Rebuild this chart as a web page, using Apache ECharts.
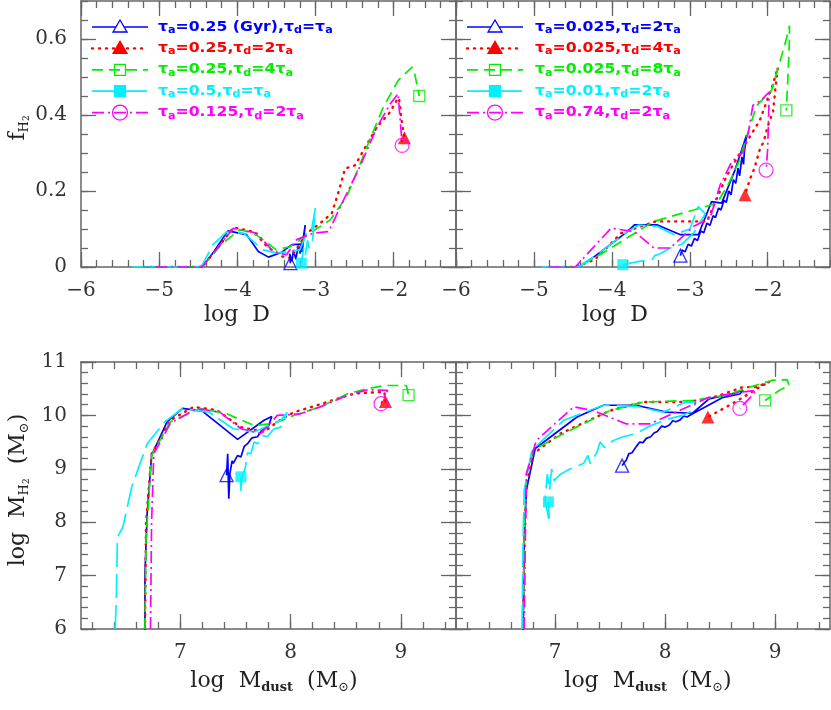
<!DOCTYPE html>
<html>
<head>
<meta charset="utf-8">
<title>f_H2 and M_H2 tracks</title>
<script src="https://cdn.jsdelivr.net/npm/echarts@6/dist/echarts.min.js"></script>
<style>
  html, body { margin: 0; padding: 0; background: #fff; }
  #chart { width: 831px; height: 710px; }
</style>
</head>
<body>
<div id="chart"></div>
<script>
// tick labels
const dTicks = [-6, -5, -4, -3, -2]
const fTicks = [0, 0.2, 0.4, 0.6]
const dustTicks = [7, 8, 9]
const h2Ticks = [6, 7, 8, 9, 10, 11]

// legend labels ("_x" marks a subscript)
const leftNames = ['τ_a=0.25 (Gyr),τ_d=τ_a', 'τ_a=0.25,τ_d=2τ_a', 'τ_a=0.25,τ_d=4τ_a', 'τ_a=0.5,τ_d=τ_a', 'τ_a=0.125,τ_d=2τ_a']
const rightNames = ['τ_a=0.025,τ_d=2τ_a', 'τ_a=0.025,τ_d=4τ_a', 'τ_a=0.025,τ_d=8τ_a', 'τ_a=0.01,τ_d=2τ_a', 'τ_a=0.74,τ_d=2τ_a']

// top left: [log D, f_H2]
const tlBlue = [[-5.2, 0], [-4.45, 0], [-4.3, 0.04], [-4.12, 0.095], [-3.88, 0.085], [-3.73, 0.041], [-3.6, 0.026], [-3.43, 0.039], [-3.3, 0.059], [-3.18, 0.06], [-3.2, 0.035], [-3.16, 0.07], [-3.13, 0.11], [-3.17, 0.04], [-3.22, 0.055], [-3.25, 0.02], [-3.28, 0.045], [-3.3, 0.015], [-3.33, 0.035], [-3.32, 0.01]]
const tlRed = [[-5.2, 0], [-4.45, 0], [-4.25, 0.05], [-4.05, 0.104], [-3.79, 0.093], [-3.62, 0.054], [-3.43, 0.028], [-3.32, 0.024], [-3.2, 0.06], [-3.11, 0.089], [-2.94, 0.115], [-2.79, 0.141], [-2.7, 0.2], [-2.62, 0.259], [-2.49, 0.268], [-2.36, 0.316], [-2.21, 0.369], [-2.06, 0.403], [-1.96, 0.438], [-1.93, 0.445], [-1.9, 0.39], [-1.86, 0.34]]
const tlGreen = [[-5.1, 0], [-4.45, 0], [-4.2, 0.06], [-3.97, 0.098], [-3.8, 0.09], [-3.67, 0.072], [-3.5, 0.045], [-3.32, 0.054], [-3.07, 0.089], [-2.81, 0.124], [-2.6, 0.185], [-2.51, 0.229], [-2.34, 0.316], [-2.13, 0.421], [-1.94, 0.491], [-1.82, 0.515], [-1.76, 0.526], [-1.73, 0.51], [-1.7, 0.48], [-1.67, 0.45]]
const tlCyan = [[-5.35, 0], [-4.5, 0], [-4.45, 0.005], [-4.31, 0.059], [-4.14, 0.092], [-3.92, 0.089], [-3.67, 0.045], [-3.5, 0.037], [-3.35, 0.04], [-3.2, 0.045], [-3.11, 0.089], [-3.05, 0.095], [-3.0, 0.155], [-3.04, 0.06], [-3.08, 0.05], [-3.1, 0.07], [-3.13, 0.03], [-3.15, 0.05], [-3.18, 0.01]]
const tlMag = [[-5.05, 0], [-4.45, 0], [-4.25, 0.05], [-4.05, 0.102], [-3.75, 0.089], [-3.54, 0.041], [-3.37, 0.032], [-3.24, 0.072], [-3.03, 0.089], [-2.83, 0.093], [-2.64, 0.176], [-2.43, 0.264], [-2.21, 0.369], [-2.04, 0.43], [-1.94, 0.456], [-1.92, 0.4], [-1.9, 0.35], [-1.89, 0.32]]

// top right: [log D, f_H2]
const trBlue = [[-4.8, 0], [-4.43, 0], [-4.22, 0.028], [-3.8, 0.093], [-3.71, 0.111], [-3.42, 0.111], [-3.12, 0.085], [-2.89, 0.085], [-2.72, 0.172], [-2.59, 0.168], [-2.42, 0.255], [-2.27, 0.347], [-2.3, 0.3], [-2.31, 0.27], [-2.33, 0.29], [-2.36, 0.24], [-2.38, 0.26], [-2.41, 0.22], [-2.44, 0.23], [-2.47, 0.19], [-2.5, 0.2], [-2.53, 0.17], [-2.56, 0.175], [-2.6, 0.15], [-2.63, 0.155], [-2.67, 0.13], [-2.7, 0.135], [-2.74, 0.11], [-2.78, 0.115], [-2.82, 0.09], [-2.86, 0.095], [-2.9, 0.07], [-2.94, 0.075], [-2.98, 0.055], [-3.02, 0.06], [-3.06, 0.04], [-3.1, 0.045], [-3.12, 0.03]]
const trRed = [[-4.8, 0], [-4.47, 0], [-4.22, 0.019], [-3.88, 0.089], [-3.44, 0.12], [-2.78, 0.12], [-2.53, 0.238], [-2.36, 0.299], [-2.1, 0.386], [-1.93, 0.482], [-1.87, 0.525], [-1.9, 0.47], [-1.93, 0.41], [-2.0, 0.37], [-2.05, 0.33], [-2.1, 0.31], [-2.17, 0.26], [-2.23, 0.23], [-2.29, 0.19]]
const trGreen = [[-4.8, 0], [-4.43, 0], [-4.05, 0.045], [-3.46, 0.12], [-2.95, 0.15], [-2.65, 0.168], [-2.5, 0.22], [-2.36, 0.281], [-2.23, 0.369], [-2.14, 0.425], [-1.95, 0.465], [-1.85, 0.535], [-1.76, 0.6], [-1.72, 0.635], [-1.72, 0.6], [-1.74, 0.5], [-1.76, 0.412]]
const trCyan = [[-4.9, 0], [-4.43, 0], [-4.22, 0.028], [-3.8, 0.093], [-3.66, 0.11], [-3.42, 0.107], [-3.2, 0.085], [-3.0, 0.1], [-2.89, 0.159], [-2.8, 0.14], [-2.95, 0.09], [-3.1, 0.06], [-3.25, 0.05], [-3.38, 0.035], [-3.45, 0.03], [-3.48, 0.02], [-3.65, 0.015], [-3.86, 0.006]]
const trMag = [[-4.81, 0], [-4.47, 0], [-4.01, 0.102], [-3.71, 0.093], [-3.46, 0.05], [-3.25, 0.05], [-2.95, 0.107], [-2.74, 0.128], [-2.61, 0.216], [-2.46, 0.277], [-2.31, 0.303], [-2.25, 0.351], [-2.19, 0.425], [-2.08, 0.44], [-1.98, 0.46], [-1.99, 0.38], [-2.0, 0.31], [-2.02, 0.255]]

// bottom left: [log M_dust, log M_H2]
const blBlue = [[6.68, 6], [6.68, 7.04], [6.7, 8.16], [6.74, 9.25], [6.88, 9.88], [7.02, 10.13], [7.2, 10.08], [7.52, 9.55], [7.76, 9.91], [7.83, 9.98], [7.8, 9.8], [7.79, 9.78], [7.74, 9.72], [7.7, 9.6], [7.65, 9.58], [7.61, 9.47], [7.58, 9.42], [7.55, 9.22], [7.52, 9.25], [7.48, 9.1], [7.47, 9.15], [7.45, 8.91], [7.44, 8.44], [7.43, 9.28], [7.42, 8.88]]
const blRed = [[6.68, 6], [6.69, 8.0], [6.74, 9.28], [6.91, 9.91], [7.12, 10.16], [7.33, 10.1], [7.55, 9.78], [7.76, 9.69], [7.88, 9.88], [8.03, 10.06], [8.24, 10.19], [8.42, 10.31], [8.58, 10.41], [8.85, 10.44], [8.86, 10.26]]
const blGreen = [[6.68, 6], [6.69, 7.7], [6.74, 9.25], [6.91, 9.88], [7.18, 10.13], [7.42, 10.03], [7.67, 9.81], [7.85, 9.85], [8.03, 10.0], [8.27, 10.16], [8.52, 10.41], [8.7, 10.5], [8.85, 10.56], [9.05, 10.56], [9.07, 10.38]]
const blCyan = [[6.41, 6], [6.42, 6.54], [6.43, 7.72], [6.48, 7.91], [6.56, 8.66], [6.7, 9.47], [6.86, 9.88], [7.02, 10.13], [7.26, 10.06], [7.48, 9.75], [7.67, 9.69], [7.91, 9.91], [7.97, 10.06], [7.93, 9.85], [7.91, 9.78], [7.85, 9.75], [7.79, 9.6], [7.75, 9.62], [7.7, 9.47], [7.67, 9.5], [7.64, 9.28], [7.61, 9.3], [7.59, 9.03], [7.56, 8.85], [7.55, 8.57], [7.55, 8.85]]
const blMag = [[6.73, 6], [6.74, 8.0], [6.76, 9.28], [6.91, 9.85], [7.15, 10.13], [7.36, 10.06], [7.55, 9.75], [7.73, 9.66], [7.88, 10.0], [8.09, 10.03], [8.27, 10.16], [8.52, 10.38], [8.7, 10.48], [8.88, 10.47], [8.82, 10.22]]

// bottom right: [log M_dust, log M_H2]
const brBlue = [[6.71, 6], [6.72, 7.66], [6.74, 8.6], [6.82, 9.38], [7.2, 9.97], [7.44, 10.19], [7.74, 10.19], [8.01, 10.06], [8.25, 10.04], [8.4, 10.31], [8.62, 10.41], [8.71, 10.47], [8.68, 10.4], [8.52, 10.33], [8.34, 10.13], [8.25, 10.03], [8.2, 9.97], [8.17, 9.99], [8.14, 9.92], [8.1, 9.88], [8.07, 9.9], [8.04, 9.82], [8.0, 9.78], [7.97, 9.8], [7.93, 9.7], [7.9, 9.67], [7.87, 9.6], [7.83, 9.57], [7.8, 9.49], [7.77, 9.5], [7.74, 9.42], [7.7, 9.3], [7.67, 9.28], [7.65, 9.17], [7.61, 9.06]]
const brRed = [[6.71, 6], [6.72, 7.6], [6.74, 8.7], [6.8, 9.28], [7.05, 9.66], [7.5, 10.09], [7.8, 10.25], [8.19, 10.25], [8.4, 10.31], [8.71, 10.53], [8.83, 10.53], [8.95, 10.63], [8.86, 10.53], [8.71, 10.34], [8.56, 10.16], [8.39, 9.97]]
const brGreen = [[6.71, 6], [6.72, 7.6], [6.74, 8.9], [6.8, 9.35], [7.05, 9.63], [7.5, 10.09], [7.8, 10.25], [8.25, 10.28], [8.56, 10.38], [8.77, 10.53], [8.98, 10.66], [9.11, 10.67], [9.13, 10.56], [9.04, 10.47], [8.91, 10.28]]
const brCyan = [[6.7, 6], [6.71, 7.66], [6.72, 8.6], [6.79, 9.35], [7.08, 9.91], [7.44, 10.19], [7.74, 10.17], [7.98, 10.06], [8.19, 10.25], [8.28, 10.25], [8.25, 10.09], [8.16, 10.0], [8.04, 9.94], [7.86, 9.8], [7.74, 9.66], [7.62, 9.6], [7.53, 9.53], [7.45, 9.4], [7.41, 9.5], [7.38, 9.3], [7.32, 9.1], [7.3, 9.25], [7.26, 9.1], [7.2, 9.05], [7.11, 8.97], [7.05, 8.9], [6.99, 8.78], [6.97, 9.0], [6.95, 8.6], [6.93, 8.9], [6.91, 8.41], [6.95, 8.0], [6.94, 8.38]]
const brMag = [[6.72, 6], [6.73, 7.6], [6.74, 8.91], [6.83, 9.53], [7.17, 10.16], [7.35, 10.09], [7.65, 9.84], [7.86, 9.84], [8.1, 10.06], [8.4, 10.34], [8.71, 10.44], [8.83, 10.47], [8.76, 10.3], [8.68, 10.13]]

// helper for evenly spaced minor ticks
function steps(a, b, s) {
  const out = []
  for (let i = 0; a + i * s <= b + 1e-9; i++) out.push(+(a + i * s).toFixed(3))
  return out
}

const frame = '#666'
const labelFont = { fontFamily: 'DejaVu Serif', fontSize: 20, color: '#333' }
const minusFmt = v => (v < 0 ? '\u2212' + Math.abs(v) : String(v))

const looks = [
  { color: '#0000ff', dash: 'solid', symbol: 'triangle', open: true, size: 13 },
  { color: '#ff0000', dash: [1, 6], symbol: 'triangle', open: false, size: 13 },
  { color: '#00ee00', dash: [11, 6], symbol: 'rect', open: true, size: 11 },
  { color: '#00f0ff', dash: [24, 7], symbol: 'rect', open: false, size: 11 },
  { color: '#ff00ff', dash: [12, 4, 2, 4], symbol: 'circle', open: true, size: 14 }
]

const dAxis = { min: -6, max: -1.2, major: dTicks, minor: steps(-6, -1.2, 0.2) }
const fAxis = { min: 0, max: 0.7, major: fTicks, minor: steps(0, 0.7, 0.05) }
const dustAxis = { min: 6.1, max: 9.5, major: dustTicks, minor: steps(6.2, 9.4, 0.2) }
const h2Axis = { min: 6, max: 11, major: h2Ticks, minor: steps(6, 11, 0.2) }

const panels = [
  { box: { left: 81, top: 1, width: 375, height: 266 }, x: dAxis, y: fAxis, yLabels: true, curves: [tlBlue, tlRed, tlGreen, tlCyan, tlMag] },
  { box: { left: 456, top: 1, width: 374, height: 266 }, x: dAxis, y: fAxis, yLabels: false, curves: [trBlue, trRed, trGreen, trCyan, trMag] },
  { box: { left: 81, top: 362, width: 375, height: 267 }, x: dustAxis, y: h2Axis, yLabels: true, curves: [blBlue, blRed, blGreen, blCyan, blMag] },
  { box: { left: 456, top: 362, width: 374, height: 267 }, x: dustAxis, y: h2Axis, yLabels: false, curves: [brBlue, brRed, brGreen, brCyan, brMag] }
]

function makeAxes(dim, gridIndex, ax, showLabels) {
  const main = dim === 'x' ? 'bottom' : 'left'
  const mirror = dim === 'x' ? 'top' : 'right'
  const base = {
    gridIndex, type: 'value', min: ax.min, max: ax.max,
    splitLine: { show: false },
    axisLine: { onZero: false, lineStyle: { color: frame, width: 1.5 } }
  }
  const tick = (vals, len) => ({ inside: true, length: len, customValues: vals, lineStyle: { color: frame, width: 1.3 } })
  return [
    Object.assign({}, base, {
      position: main, axisTick: tick(ax.major, 15),
      axisLabel: Object.assign({ show: showLabels, customValues: ax.major, formatter: minusFmt, margin: dim === 'x' ? 14 : 14 }, labelFont)
    }),
    Object.assign({}, base, { position: main, axisLine: { show: false, onZero: false }, axisTick: tick(ax.minor, 7), axisLabel: { show: false } }),
    Object.assign({}, base, { position: mirror, axisTick: tick(ax.major, 15), axisLabel: { show: false } }),
    Object.assign({}, base, { position: mirror, axisLine: { show: false, onZero: false }, axisTick: tick(ax.minor, 7), axisLabel: { show: false } })
  ]
}

const grid = [], xAxis = [], yAxis = [], series = []
panels.forEach((p, g) => {
  grid.push(Object.assign({ containLabel: false }, p.box))
  xAxis.push(...makeAxes('x', g, p.x, true))
  yAxis.push(...makeAxes('y', g, p.y, p.yLabels))
  p.curves.forEach((curve, i) => {
    const lk = looks[i]
    series.push({
      type: 'line', xAxisIndex: 4 * g, yAxisIndex: 4 * g, data: curve,
      symbol: 'none', silent: true, z: 2,
      lineStyle: { color: lk.color, width: lk.dash[0] === 1 ? 2.4 : 1.7, type: lk.dash, cap: lk.dash[0] === 1 ? 'round' : 'butt' }
    })
  })
  p.curves.forEach((curve, i) => {
    const lk = looks[i]
    series.push({
      type: 'scatter', xAxisIndex: 4 * g, yAxisIndex: 4 * g, data: [curve[curve.length - 1]],
      symbol: lk.symbol, symbolSize: lk.size, silent: true, z: 3,
      itemStyle: lk.open ? { color: 'rgba(255,255,255,0)', borderColor: lk.color, borderWidth: 1.3 } : { color: lk.color }
    })
  })
})

// rich text helpers
function toRich(s) {
  return '{m|' + s.replace(/_(\w)/g, '}{s|$1}{m|') + '}'
}
function legendRich(color) {
  return {
    m: { fontFamily: 'DejaVu Sans', fontWeight: 'bold', fontSize: 14, lineHeight: 17, verticalAlign: 'middle', fill: color },
    s: { fontFamily: 'DejaVu Sans', fontWeight: 'bold', fontSize: 10, lineHeight: 10, verticalAlign: 'bottom', fill: color }
  }
}
function marker(lk, cx, cy) {
  const style = { fill: lk.open ? (lk.symbol === 'triangle' ? '#fff' : 'none') : lk.color, stroke: lk.color, lineWidth: 1.3 }
  if (lk.symbol === 'triangle') return { type: 'polygon', shape: { points: [[cx, cy - 7], [cx - 7, cy + 5], [cx + 7, cy + 5]] }, style, z: 20 }
  if (lk.symbol === 'rect') return { type: 'rect', shape: { x: cx - 5.5, y: cy - 5.5, width: 11, height: 11 }, style, z: 20 }
  return { type: 'circle', shape: { cx, cy, r: 7.5 }, style, z: 20 }
}
function legend(names, x0, x1, tx) {
  const els = []
  names.forEach((name, i) => {
    const y = 27 + i * 21.4
    const lk = looks[i]
    els.push({
      type: 'line', shape: { x1: x0, y1: y, x2: x1, y2: y }, z: 19,
      style: { stroke: lk.color, lineWidth: lk.dash[0] === 1 ? 2.4 : 1.7, lineDash: lk.dash === 'solid' ? null : lk.dash, lineCap: lk.dash[0] === 1 ? 'round' : 'butt' }
    })
    els.push(marker(lk, (x0 + x1) / 2, y))
    els.push({ type: 'text', x: tx, y, scaleX: 1.12, z: 20, style: { text: toRich(name), rich: legendRich(lk.color), align: 'left', verticalAlign: 'middle' } })
  })
  return els
}

const ink = '#222'
const titleRich = {
  m: { fontFamily: 'DejaVu Serif', fontSize: 22, lineHeight: 26, verticalAlign: 'middle', fill: ink },
  s: { fontFamily: 'DejaVu Serif', fontSize: 13, lineHeight: 13, verticalAlign: 'bottom', fill: ink },
  b: { fontFamily: 'DejaVu Serif', fontWeight: 'bold', fontSize: 13, lineHeight: 13, verticalAlign: 'bottom', fill: ink },
  t: { fontFamily: 'DejaVu Serif', fontSize: 9, lineHeight: 7, verticalAlign: 'bottom', fill: ink }
}
function title(text, x, y, rot) {
  return { type: 'text', x, y, rotation: rot || 0, z: 20, style: { text, rich: titleRich, align: 'center', verticalAlign: 'middle' } }
}

const graphic = [
  ...legend(leftNames, 92, 148, 158),
  ...legend(rightNames, 467, 523, 535),
  title('{m|f}{s|H}{t|2}', 18, 128, Math.PI / 2),
  title('{m|log  D}', 237, 315),
  title('{m|log  D}', 615, 315),
  title('{m|log  M}{s|H}{t|2}{m|  (M}{s|⊙}{m|)}', 18, 490, Math.PI / 2),
  title('{m|log  M}{b|dust}{m|  (M}{s|⊙}{m|)}', 274, 681),
  title('{m|log  M}{b|dust}{m|  (M}{s|⊙}{m|)}', 648, 681)
]

const chart = echarts.init(document.getElementById('chart'))
chart.setOption({
  animation: false,
  backgroundColor: '#fff',
  grid, xAxis, yAxis, series, graphic
})
</script>
</body>
</html>
